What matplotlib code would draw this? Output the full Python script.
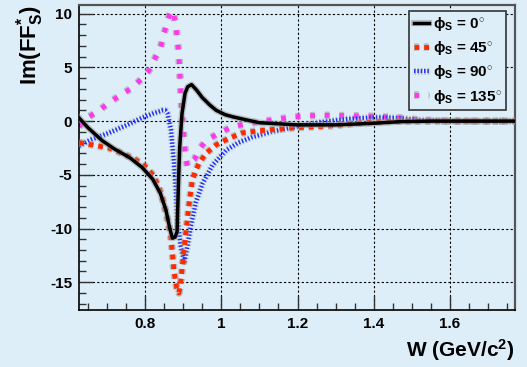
import matplotlib
matplotlib.use("Agg")
from matplotlib import pyplot as plt
from matplotlib.ticker import MultipleLocator
import matplotlib.patheffects as pe

# Data
W_0 = [0.627, 0.65, 0.687, 0.72, 0.76, 0.792, 0.82, 0.84, 0.855, 0.865, 0.872, 0.879, 0.884,
       0.888, 0.891, 0.897, 0.905, 0.912, 0.922, 0.935, 0.95, 0.97, 0.987, 1.01, 1.03, 1.074,
       1.1, 1.2, 1.3, 1.4, 1.47, 1.55, 1.77]
F_0 = [0.3, -0.6, -1.8, -2.6, -3.4, -4.3, -5.4, -6.7, -8.3, -10.0, -10.9, -10.8, -10.3,
       -5.5, -2.4, 0.7, 2.6, 3.2, 3.4, 2.9, 2.2, 1.5, 1.0, 0.6, 0.4, 0.05,
       -0.15, -0.35, -0.35, -0.2, -0.05, 0.0, 0.0]

W_45 = [0.627, 0.66, 0.705, 0.74, 0.776, 0.80, 0.818, 0.835, 0.845, 0.858, 0.868, 0.876, 0.883,
        0.889, 0.893, 0.898, 0.902, 0.907, 0.916, 0.924, 0.933, 0.942, 0.96, 0.987, 1.02, 1.055,
        1.1, 1.145, 1.2, 1.26, 1.3, 1.37, 1.45, 1.77]
F_45 = [-2.0, -2.2, -2.5, -3.0, -3.6, -4.2, -4.9, -6.0, -7.1, -9.0, -10.8, -14.0, -15.5,
        -16.0, -15.2, -13.5, -12.0, -10.4, -7.6, -5.5, -4.6, -3.9, -3.0, -2.2, -1.6, -1.1,
        -0.9, -0.75, -0.6, -0.5, -0.4, -0.15, 0.0, 0.0]

W_90 = [0.627, 0.66, 0.705, 0.75, 0.792, 0.82, 0.846, 0.853, 0.859, 0.868, 0.876, 0.881, 0.885,
        0.894, 0.903, 0.911, 0.92, 0.933, 0.951, 0.977, 1.013, 1.045, 1.08, 1.13, 1.19, 1.26,
        1.33, 1.4, 1.46, 1.52, 1.6, 1.77]
F_90 = [-2.3, -1.7, -1.1, -0.4, 0.3, 0.7, 1.0, 1.0, 0.7, -0.8, -3.9, -6.4, -9.2,
        -11.7, -13.1, -11.7, -9.8, -7.6, -5.8, -4.1, -2.7, -2.0, -1.5, -1.0, -0.55, -0.1,
        0.2, 0.35, 0.3, 0.1, 0.0, 0.0]

W_135 = [0.627, 0.653, 0.68, 0.705, 0.735, 0.766, 0.79, 0.81, 0.824, 0.841, 0.85, 0.858, 0.864,
         0.87, 0.875, 0.881, 0.885, 0.889, 0.892, 0.895, 0.899, 0.903, 0.907, 0.911, 0.918,
         0.929, 0.945, 0.96, 0.995, 1.03, 1.1, 1.145, 1.187, 1.26, 1.33, 1.4, 1.47, 1.52, 1.6, 1.77]
F_135 = [-0.5, 0.4, 1.0, 1.7, 2.4, 3.1, 3.9, 4.7, 5.7, 6.9, 8.2, 9.1, 9.9,
         10.3, 10.0, 8.9, 7.6, 6.0, 4.0, 1.8, 0.0, -2.0, -3.5, -4.2, -4.0,
         -3.6, -2.5, -1.8, -1.1, -0.5, -0.05, 0.15, 0.4, 0.55, 0.5, 0.45, 0.3, 0.1, 0.0, 0.0]

labels = [r"ϕ$_{S}$ = 0$^{\circ}$", r"ϕ$_{S}$ = 45$^{\circ}$",
          r"ϕ$_{S}$ = 90$^{\circ}$", r"ϕ$_{S}$ = 135$^{\circ}$"]

bg = "#ddeef8"
plt.rcParams["font.family"] = ["Liberation Sans", "DejaVu Sans"]
plt.rcParams["font.weight"] = "bold"
plt.rcParams["axes.unicode_minus"] = False
plt.rcParams["mathtext.fontset"] = "custom"
plt.rcParams["mathtext.rm"] = "Liberation Sans:bold"
plt.rcParams["mathtext.it"] = "Liberation Sans:bold"
plt.rcParams["mathtext.bf"] = "Liberation Sans:bold"

fig = plt.figure(figsize=(5.27, 3.67), dpi=100, facecolor=bg)
ax = fig.add_axes([0.150, 0.155, 0.827, 0.831], facecolor=bg)

halo = lambda w: [pe.Stroke(linewidth=w + 2, foreground="#9a9a9a", alpha=0.55), pe.Normal()]

ax.plot(W_0, F_0, color="black", lw=2.5, label=labels[0], path_effects=halo(2.5), zorder=5)
ax.plot(W_45, F_45, color="#ff2a00", lw=3.5, ls=(0, (1, 1)), label=labels[1],
        path_effects=halo(3.5), zorder=4)
ax.plot(W_90, F_90, color="#2030ff", lw=3.0, ls=(0, (0.35, 0.45)), label=labels[2],
        path_effects=halo(3.0), zorder=3)
ax.plot(W_135, F_135, color="#ff38f0", lw=3.5, ls=(0, (1, 2)), label=labels[3],
        path_effects=halo(3.5), zorder=2)

ax.set_xlim(0.627, 1.77)
ax.set_ylim(-17.6, 10.8)
ax.xaxis.set_major_locator(MultipleLocator(0.2))
ax.xaxis.set_minor_locator(MultipleLocator(0.05))
ax.yaxis.set_major_locator(MultipleLocator(5))
ax.yaxis.set_minor_locator(MultipleLocator(1))
ax.tick_params(which="both", direction="in", top=False, right=False, colors="#333333",
               labelcolor="black", labelsize=11)
ax.tick_params(which="major", length=10, width=1.0, pad=5)
ax.tick_params(which="minor", length=5, width=1.0)
ax.set_xticks([0.8, 1.0, 1.2, 1.4, 1.6], ["0.8", "1", "1.2", "1.4", "1.6"])
ax.grid(True, which="major", color="black", lw=0.8, ls=(0, (2, 2)))

for s in ["left", "bottom"]:
    ax.spines[s].set_color("black")
    ax.spines[s].set_linewidth(1.2)
for s in ["top", "right"]:
    ax.spines[s].set_color("#555555")
    ax.spines[s].set_linewidth(1.6)

ax.set_xlabel(r"W (GeV/c$^{2}$)", fontsize=15, fontweight="bold", loc="right")
ax.xaxis.set_label_coords(1.0, -0.088)
ax.set_ylabel(r"Im(FF$^{*}_{S}$)", fontsize=16, fontweight="bold", loc="top")
ax.yaxis.set_label_coords(-0.075, 1.0)

leg = ax.legend(loc="upper right", bbox_to_anchor=(0.98, 0.982), borderaxespad=0,
                fontsize=11, handlelength=1.0, handletextpad=0.25, labelspacing=0.4,
                fancybox=False, framealpha=1, facecolor=bg, edgecolor="#333333",
                borderpad=0.3)
leg.get_frame().set_linewidth(1.2)

fig.savefig("out.png", dpi=100, facecolor=bg)
